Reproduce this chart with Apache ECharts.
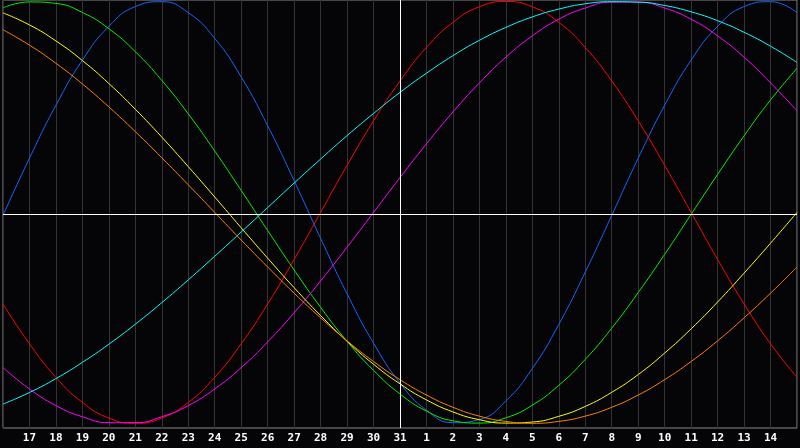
<!DOCTYPE html>
<html>
<head>
<meta charset="utf-8">
<script src="https://cdn.jsdelivr.net/npm/echarts@6/dist/echarts.min.js"></script>
<style>
html,body{margin:0;padding:0;background:#050508;}
#c{width:800px;height:448px;}
</style>
</head>
<body>
<div id="c"></div>
<script>
const days = ['16','17','18','19','20','21','22','23','24','25','26','27','28','29','30','31','1','2','3','4','5','6','7','8','9','10','11','12','13','14','15'];
const physical = [-0.014,0.257,0.508,0.722,0.882,0.976,0.999,0.947,0.825,0.642,0.411,0.150,-0.123,-0.386,-0.620,-0.809,-0.938,-0.997,-0.982,-0.894,-0.740,-0.531,-0.283,-0.014,0.257,0.508,0.722,0.882,0.976,0.999,0.947];
const emotional = [-0.434,-0.623,-0.782,-0.901,-0.975,-1.000,-0.975,-0.901,-0.782,-0.623,-0.434,-0.223,0.000,0.223,0.434,0.623,0.782,0.901,0.975,1.000,0.975,0.901,0.782,0.623,0.434,0.223,0.000,-0.223,-0.434,-0.623,-0.782];
const intellectual = [0.970,0.998,0.991,0.948,0.871,0.762,0.626,0.467,0.291,0.104,-0.086,-0.273,-0.450,-0.611,-0.749,-0.861,-0.942,-0.988,-0.999,-0.974,-0.914,-0.820,-0.697,-0.549,-0.380,-0.199,-0.009,0.180,0.363,0.533,0.683];
const intuitive = [-0.736,-0.837,-0.916,-0.969,-0.997,-0.997,-0.969,-0.916,-0.837,-0.736,-0.614,-0.476,-0.325,-0.165,0.000,0.165,0.325,0.476,0.614,0.736,0.837,0.916,0.969,0.997,0.997,0.969,0.916,0.837,0.736,0.614,0.482];
const aesthetic = [0.946,0.889,0.813,0.720,0.611,0.489,0.357,0.217,0.073,-0.073,-0.217,-0.357,-0.489,-0.611,-0.720,-0.813,-0.889,-0.946,-0.983,-0.999,-0.994,-0.967,-0.920,-0.853,-0.769,-0.667,-0.552,-0.425,-0.288,-0.146,0.000];
const awareness = [0.866,0.793,0.707,0.609,0.500,0.383,0.259,0.131,0.000,-0.131,-0.259,-0.383,-0.500,-0.609,-0.707,-0.793,-0.866,-0.924,-0.966,-0.991,-1.000,-0.991,-0.966,-0.924,-0.866,-0.793,-0.707,-0.609,-0.500,-0.383,-0.259];
const spiritual = [-0.909,-0.854,-0.788,-0.711,-0.625,-0.530,-0.428,-0.320,-0.208,-0.093,0.023,0.139,0.253,0.364,0.469,0.569,0.660,0.743,0.816,0.877,0.927,0.964,0.989,0.999,0.997,0.981,0.951,0.909,0.854,0.788,0.711];
const todayLabel = '31';

const chart = echarts.init(document.getElementById('c'), null, {renderer:'canvas'});
function s(name, data, color, extra){
  return Object.assign({
    name, type:'line', data, smooth:0.5, symbol:'none', silent:true,
    lineStyle:{color, width:1}, itemStyle:{color}
  }, extra||{});
}
chart.setOption({
  animation:false,
  backgroundColor:'#050508',
  grid:{left:0, right:1, top:0, bottom:20, show:true, borderColor:'#8a8a8a', borderWidth:1, backgroundColor:'#050508'},
  xAxis:{
    type:'category', data:days, boundaryGap:false,
    axisLine:{show:false}, axisTick:{show:false},
    splitLine:{show:true, interval:0, lineStyle:{color:'#333333', width:1}},
    axisLabel:{interval:0, color:'#ffffff', fontFamily:'DejaVu Sans Mono', fontWeight:'bold', fontSize:11, margin:5,
      formatter:(v,i)=> (i===0||i===days.length-1) ? '' : v}
  },
  yAxis:{type:'value', min:-1.0223, max:1.0071, show:false, splitLine:{show:false}},
  series:[
    s('physical', physical, '#1464ff', {
      markLine:{silent:true, symbol:'none', label:{show:false}, animation:false,
        lineStyle:{color:'#ffffff', width:1, type:'solid'},
        data:[{yAxis:-0.0076},{xAxis:todayLabel}]}
    }),
    s('emotional', emotional, '#ff0000'),
    s('intellectual', intellectual, '#00ee00'),
    s('intuitive', intuitive, '#ff00ff'),
    s('aesthetic', aesthetic, '#ffff00'),
    s('awareness', awareness, '#ff8000'),
    s('spiritual', spiritual, '#00ffff')
  ]
});
</script>
</body>
</html>
